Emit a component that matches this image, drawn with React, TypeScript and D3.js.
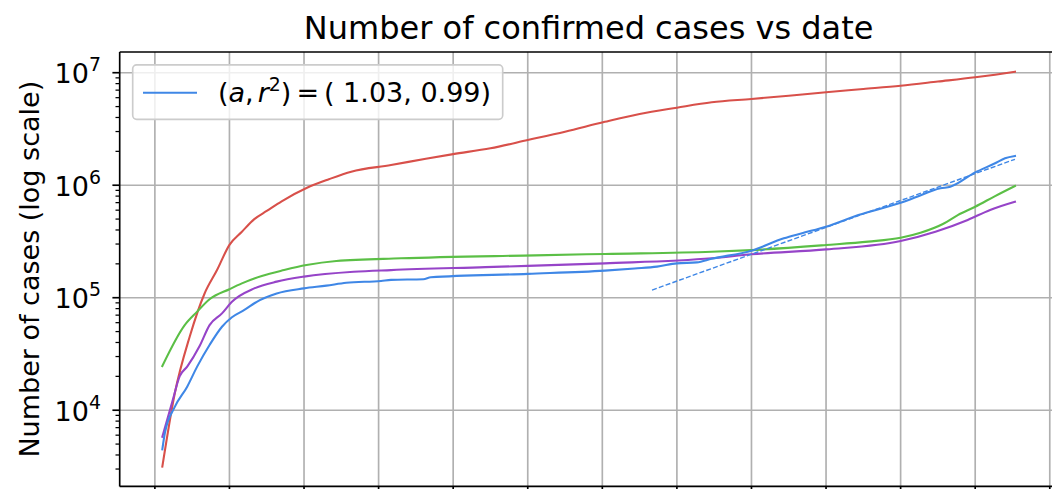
import React from 'react';
import { scaleLinear, scaleLog, line, extent, curveMonotoneX } from 'd3';

// day index (since first record) -> confirmed cases
const redSeries: [number, number][] = [
	[0, 3150], [5, 14100], [11, 45000], [17, 109000], [22, 176000], [27, 295000],
	[32, 386000], [37, 500000], [42, 590000], [48, 720000], [58, 945000], [67, 1130000],
	[76, 1320000], [92, 1510000], [106, 1720000], [117, 1890000], [132, 2130000],
	[147, 2520000], [162, 2990000], [178, 3660000], [192, 4300000], [207, 4890000],
	[221, 5460000], [237, 5840000], [252, 6240000], [267, 6700000], [282, 7160000],
	[297, 7660000], [312, 8340000], [327, 9100000], [335, 9600000], [343, 10200000],
];

const greenSeries: [number, number][] = [
	[0, 24700], [9, 57100], [14, 75200], [19, 96900], [27, 119000], [32, 134000],
	[40, 156000], [49, 176000], [58, 195000], [70, 212000], [96, 224000], [150, 238000],
	[178, 245000], [221, 256000], [237, 265000], [267, 294000], [284, 315000],
	[297, 341000], [305, 378000], [314, 452000], [320, 543000], [327, 644000],
	[335, 801000], [343, 985000],
];

const purpleSeries: [number, number][] = [
	[0, 5800], [4, 11900], [7, 20100], [10, 24400], [15, 37200], [19, 57100],
	[24, 72600], [28, 92000], [37, 121000], [46, 139000], [57, 154000], [77, 170000],
	[92, 176000], [130, 187000], [178, 202000], [221, 224000], [237, 243000],
	[267, 269000], [297, 319000], [311, 386000], [324, 491000], [333, 603000],
	[343, 713000],
];

const blueSeries: [number, number][] = [
	[0, 4490], [1, 6240], [5, 10700], [10, 16200], [14, 24400], [19, 38000],
	[24, 55200], [28, 67000], [33, 77800], [38, 92000], [46, 109000], [57, 121000],
	[66, 128000], [74, 136000], [88, 141000], [92, 144000], [105, 146000],
	[108, 152000], [147, 163000], [178, 174000], [190, 182000], [199, 189000],
	[207, 202000], [215, 206000], [221, 222000], [237, 262000], [250, 337000],
	[257, 373000], [267, 428000], [280, 543000], [297, 699000], [302, 765000],
	[313, 938000], [317, 970000], [327, 1300000], [335, 1567000], [339, 1735000],
	[343, 1820000],
];

// exponential fit over the last stretch of the blue series
const fitSeries: [number, number][] = [
	[197, 117000],
	[343, 1700000],
];

const xTickDays = [-3, 27, 57, 87, 117, 147, 177, 207, 237, 267, 297, 327, 357];
const yMajorExps = [3, 4, 5, 6, 7];
const yMinorMults = [2, 3, 4, 5, 6, 7, 8, 9];

const legendLabel = { a: '1.03', r2: '0.99' };

const FONT = "'DejaVu Sans', 'Liberation Sans', sans-serif";

const W = 1052;
const H = 489;
const plot = { left: 119.7, top: 52, right: 1057.6, bottom: 486.4 };

export default function App() {
	const all = [...redSeries, ...greenSeries, ...purpleSeries, ...blueSeries];

	// matplotlib style 5% margins
	const [d0, d1] = extent(all, (d) => d[0]) as [number, number];
	const dPad = (d1 - d0) * 0.05;
	const x = scaleLinear().domain([d0 - dPad, d1 + dPad]).range([plot.left, plot.right]);

	const [v0, v1] = extent(all, (d) => d[1]) as [number, number];
	const l0 = Math.log10(v0);
	const l1 = Math.log10(v1);
	const lPad = (l1 - l0) * 0.05;
	const y = scaleLog()
		.domain([Math.pow(10, l0 - lPad), Math.pow(10, l1 + lPad)])
		.range([plot.bottom, plot.top]);

	const path = line<[number, number]>()
		.x((d) => x(d[0]))
		.y((d) => y(d[1]))
		.curve(curveMonotoneX);

	const straight = line<[number, number]>()
		.x((d) => x(d[0]))
		.y((d) => y(d[1]));

	const yDom = y.domain();
	const inY = (v: number) => v >= yDom[0] && v <= yDom[1];
	const majors = yMajorExps.map((e) => Math.pow(10, e)).filter(inY);
	const minors: number[] = [];
	yMajorExps.forEach((e) =>
		yMinorMults.forEach((m) => {
			const v = m * Math.pow(10, e);
			if (inY(v)) minors.push(v);
		})
	);

	const gridColor = '#b0b0b0';
	const lw = 2.08;

	return (
		<svg
			width={W}
			height={H}
			style={{ position: 'absolute', left: 0, top: 0, background: '#fff' }}
			fontFamily={FONT}>
			<defs>
				<clipPath id="plotClip">
					<rect x={plot.left} y={plot.top} width={plot.right - plot.left} height={plot.bottom - plot.top} />
				</clipPath>
			</defs>

			{/* title */}
			<text x={(plot.left + plot.right) / 2} y={39} textAnchor="middle" fontSize={32} fill="#000">
				Number of confirmed cases vs date
			</text>

			{/* grid */}
			<g stroke={gridColor} strokeWidth={1.67}>
				{xTickDays.map((t) => (
					<line key={'gx' + t} x1={x(t)} x2={x(t)} y1={plot.top} y2={plot.bottom} />
				))}
				{majors.map((v) => (
					<line key={'gy' + v} x1={plot.left} x2={plot.right} y1={y(v)} y2={y(v)} />
				))}
			</g>

			{/* data */}
			<g clipPath="url(#plotClip)" fill="none" strokeLinejoin="round" strokeLinecap="square">
				<path d={path(redSeries) || ''} stroke="#d8504a" strokeWidth={lw} />
				<path d={path(greenSeries) || ''} stroke="#5bbf46" strokeWidth={lw} />
				<path d={path(purpleSeries) || ''} stroke="#9644c8" strokeWidth={lw} />
				<path d={path(blueSeries) || ''} stroke="#3f87e6" strokeWidth={lw} />
				<path d={straight(fitSeries) || ''} stroke="#3f87e6" strokeWidth={1.4} strokeDasharray="5 2.2" strokeLinecap="butt" />
			</g>

			{/* legend */}
			<g>
				<rect x={132.7} y={64.8} width={370} height={54.5} rx={4} fill="#fff" fillOpacity={0.8} stroke="#cccccc" strokeWidth={1.67} />
				<line x1={143} x2={197} y1={92.7} y2={92.7} stroke="#3f87e6" strokeWidth={lw} />
				<text x={218} y={101.5} fontSize={27} fill="#000">
					<tspan>(</tspan>
					<tspan fontStyle="italic">a</tspan>
					<tspan>,</tspan>
					<tspan fontStyle="italic" dx={4}>r</tspan>
					<tspan fontSize={18.9} dy={-11}>2</tspan>
					<tspan dy={11}>)</tspan>
					<tspan dx={5}>=</tspan>
					<tspan dx={5}>{`( ${legendLabel.a}, ${legendLabel.r2})`}</tspan>
				</text>
			</g>

			{/* spines */}
			<g stroke="#000" strokeWidth={1.67} fill="none">
				<line x1={plot.left} x2={plot.left} y1={plot.top} y2={plot.bottom} />
				<line x1={plot.left} x2={plot.right} y1={plot.top} y2={plot.top} />
				<line x1={plot.left} x2={plot.right} y1={plot.bottom} y2={plot.bottom} />
				<line x1={plot.right} x2={plot.right} y1={plot.top} y2={plot.bottom} />
			</g>

			{/* x ticks (labels fall outside the frame) */}
			<g stroke="#000" strokeWidth={1.67}>
				{xTickDays.map((t) => (
					<line key={'tx' + t} x1={x(t)} x2={x(t)} y1={plot.bottom} y2={plot.bottom + 7.3} />
				))}
			</g>

			{/* y ticks */}
			<g stroke="#000">
				{majors.map((v) => (
					<line key={'ty' + v} x1={plot.left - 7.3} x2={plot.left} y1={y(v)} y2={y(v)} strokeWidth={1.67} />
				))}
				{minors.map((v) => (
					<line key={'tm' + v} x1={plot.left - 4.2} x2={plot.left} y1={y(v)} y2={y(v)} strokeWidth={1.25} />
				))}
			</g>
			<g fontSize={27} fill="#000">
				{majors.map((v) => (
					<text key={'ly' + v} x={101} y={y(v) + 10.5} textAnchor="end">
						10
						<tspan fontSize={18.9} dy={-12}>
							{Math.round(Math.log10(v))}
						</tspan>
					</text>
				))}
			</g>

			{/* y label */}
			<text
				transform={`translate(39, ${(plot.top + plot.bottom) / 2}) rotate(-90)`}
				textAnchor="middle"
				fontSize={27}
				fill="#000">
				Number of cases (log scale)
			</text>
		</svg>
	);
}
